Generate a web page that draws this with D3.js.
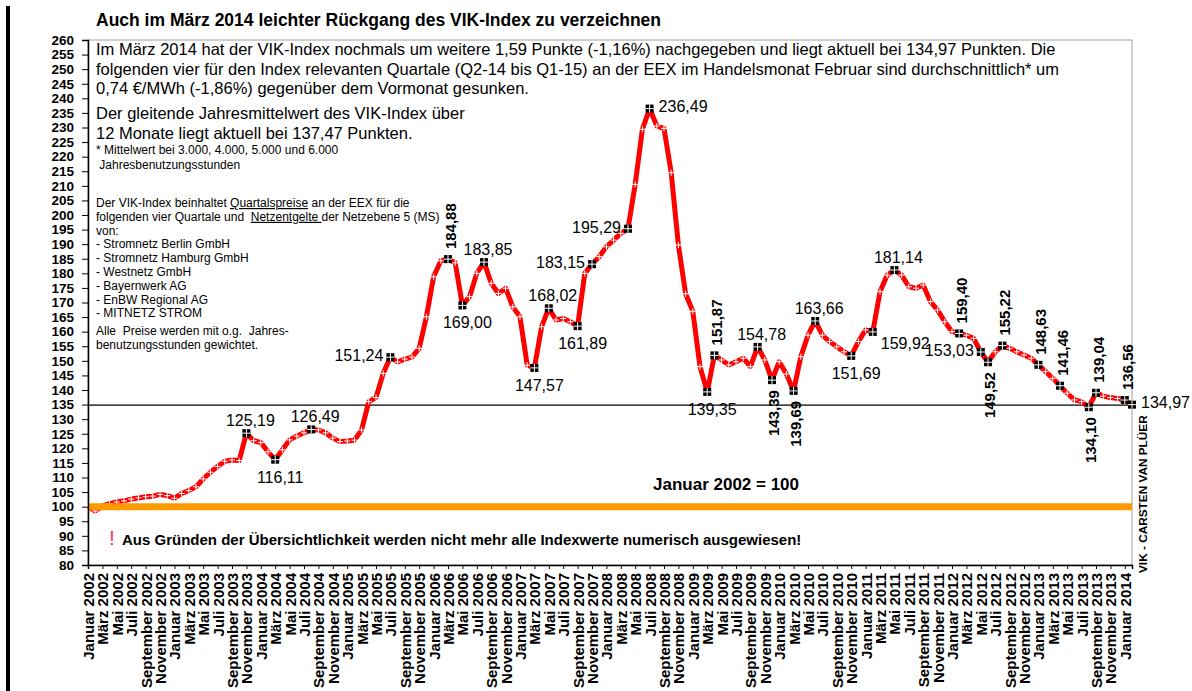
<!DOCTYPE html>
<html>
<head>
<meta charset="utf-8">
<script src="https://cdn.jsdelivr.net/npm/d3@7"></script>
<style>
  body { margin: 0; background: #fff; }
  svg text { font-family: "Liberation Sans", Arial, sans-serif; fill: #000; }
</style>
</head>
<body>
<div id="chart"></div>
<script>
// VIK-Index (Januar 2002 = 100), Monatswerte Januar 2002 bis Februar 2014
const startYear = 2002;
const monthNames = ["Januar", "Februar", "März", "April", "Mai", "Juni",
                    "Juli", "August", "September", "Oktober", "November", "Dezember"];

const indexValues = [
  100.00, 98.5, 100.3, 101.0, 101.6, 102.0, 102.6, 103.0, 103.4, 103.6, 104.2, 103.8,   // 2002
  102.9, 104.5, 105.5, 106.8, 109.5, 111.8, 113.8, 115.6, 116.0, 115.8, 125.19, 122.6,   // 2003
  122.0, 118.8, 116.11, 119.5, 122.9, 124.2, 125.3, 126.49, 126.3, 125.3, 123.5, 122.3,  // 2004
  122.5, 122.8, 126.3, 136.0, 137.4, 145.7, 151.24, 149.6, 150.6, 151.3, 154.3, 165.1,   // 2005
  178.8, 184.3, 184.88, 183.6, 169.00, 172.0, 180.0, 183.85, 176.6, 173.1, 174.9, 168.5, // 2006
  165.1, 148.5, 147.57, 161.7, 168.02, 164.0, 164.5, 163.4, 161.89, 180.0, 183.15, 185.7,// 2007
  189.1, 191.4, 193.7, 195.29, 210.5, 229.4, 236.49, 230.5, 229.7, 214.5, 189.7, 173.0,  // 2008
  167.0, 148.0, 139.35, 151.87, 150.3, 148.6, 149.7, 150.9, 148.0, 154.78, 150.3, 143.39,// 2009
  149.7, 145.5, 139.69, 151.4, 158.8, 163.66, 158.8, 156.6, 154.8, 153.1, 151.69, 156.6, // 2010
  160.6, 159.92, 173.7, 179.4, 181.14, 179.4, 175.4, 174.9, 176.0, 170.3, 167.4, 163.4,  // 2011
  160.0, 159.40, 158.8, 157.7, 153.03, 149.52, 153.1, 155.22, 154.3, 153.1, 152.0, 150.9,// 2012
  148.63, 146.3, 144.0, 141.46, 138.9, 136.6, 136.0, 134.10, 139.04, 137.9, 137.4, 137.1,// 2013
  136.56, 134.97                                                                          // 2014
];

// months whose value is written out, and where the number sits
const labelIdx = [22, 26, 31, 42, 50, 52, 55, 62, 64, 68, 70, 75, 78, 86, 87, 93, 95, 98,
                  101, 106, 109, 112, 121, 124, 125, 127, 132, 135, 139, 140, 144, 145];
const labelPos = ["top", "bottom", "top", "left", "vtop", "bottom", "top", "bottom", "top", "bottom",
                  "left", "left", "right", "bottom", "vtop", "top", "vbottom", "vbottom",
                  "top", "bottom", "rightBelow", "top", "vtop", "left", "vbottom", "vtop",
                  "vtop", "vtop", "vbottom", "vtop", "vtop", "right"];

const yTicks = d3.range(80, 261, 5);
const baseValue = 100;
const currentValue = 134.97;

const titleText = "Auch im März 2014 leichter Rückgang des VIK-Index zu verzeichnen";
const bodyLines = [
  "Im März 2014 hat der VIK-Index nochmals um weitere 1,59 Punkte (-1,16%) nachgegeben und liegt aktuell bei 134,97 Punkten. Die",
  "folgenden vier für den Index relevanten Quartale (Q2-14 bis Q1-15) an der EEX im Handelsmonat Februar sind durchschnittlich* um",
  "0,74 €/MWh (-1,86%) gegenüber dem Vormonat gesunken."
];
const meanLines = ["Der gleitende Jahresmittelwert des VIK-Index über", "12 Monate liegt aktuell bei 137,47 Punkten."];
const footLines = ["* Mittelwert bei 3.000, 4.000, 5.000 und 6.000", " Jahresbenutzungsstunden"];
const infoLines = [
  ["Der VIK-Index beinhaltet ", "Quartalspreise", " an der EEX für die"],
  ["folgenden vier Quartale und  ", "Netzentgelte ", "der Netzebene 5 (MS)"],
  ["von:"],
  ["- Stromnetz Berlin GmbH"],
  ["- Stromnetz Hamburg GmbH"],
  ["- Westnetz GmbH"],
  ["- Bayernwerk AG"],
  ["- EnBW Regional AG"],
  ["- MITNETZ STROM"]
];
const weightLines = ["Alle  Preise werden mit o.g.  Jahres-", "benutzungsstunden gewichtet."];

const W = 1192, H = 691;
const plot = { left: 88, right: 1132, top: 40, bottom: 565 };
const font = '"Liberation Sans", Arial, sans-serif';

const monthLabels = indexValues.map((v, i) =>
  monthNames[i % 12] + " " + (startYear + Math.floor(i / 12)));
const tickIdx = d3.range(0, indexValues.length, 2);
const fmt = v => d3.format(".2f")(v).replace(".", ",");

const svg = d3.select("#chart").append("svg")
  .attr("width", W)
  .attr("height", H);

const x = d3.scaleLinear().domain([0, indexValues.length - 1]).range([plot.left, plot.right]);
const y = d3.scaleLinear().domain([80, 260]).range([plot.bottom, plot.top]);

// black bar at the left page edge
svg.append("rect").attr("x", 6).attr("y", 6).attr("width", 4).attr("height", H).attr("fill", "#000");

// plot frame
svg.append("rect")
  .attr("x", plot.left).attr("y", plot.top)
  .attr("width", plot.right - plot.left).attr("height", plot.bottom - plot.top)
  .attr("fill", "none").attr("stroke", "#a0a0a0").attr("stroke-width", 1);

// title
svg.append("text")
  .attr("x", 96).attr("y", 26)
  .style("font-size", "17.5px").style("font-weight", "bold")
  .text(titleText);

// text block
const txt = svg.append("g");
bodyLines.forEach((l, i) => {
  txt.append("text").attr("x", 96).attr("y", 55 + i * 19.5)
    .style("font-size", "16.5px").text(l);
});
meanLines.forEach((l, i) => {
  txt.append("text").attr("x", 96).attr("y", 119 + i * 20)
    .style("font-size", "16.5px").text(l);
});
footLines.forEach((l, i) => {
  txt.append("text").attr("x", 96).attr("y", 154 + i * 14.5)
    .style("font-size", "12px").attr("xml:space", "preserve").text(l);
});
infoLines.forEach((parts, i) => {
  const t = txt.append("text").attr("x", 96).attr("y", 207 + i * 13.8)
    .style("font-size", "12px").attr("xml:space", "preserve");
  parts.forEach((p, k) => {
    t.append("tspan").text(p).style("text-decoration", k === 1 ? "underline" : "none");
  });
});
weightLines.forEach((l, i) => {
  txt.append("text").attr("x", 96).attr("y", 335 + i * 14.3)
    .style("font-size", "12px").attr("xml:space", "preserve").text(l);
});

// reference line at the current value
svg.append("line")
  .attr("x1", plot.left).attr("x2", plot.right)
  .attr("y1", y(currentValue) + 0.5).attr("y2", y(currentValue) + 0.5)
  .attr("stroke", "#000").attr("stroke-width", 1.3);

// index line
const line = d3.line().x((d, i) => x(i)).y(d => y(d));
svg.append("path")
  .datum(indexValues)
  .attr("d", line)
  .attr("fill", "none")
  .attr("stroke", "#ff0000")
  .attr("stroke-width", 5)
  .attr("stroke-linejoin", "round");

// white plus marks on every month
svg.append("g").selectAll("path")
  .data(indexValues.map((v, i) => i).filter(i => labelIdx.indexOf(i) < 0))
  .enter().append("path")
  .attr("d", i => `M${x(i) - 3},${y(indexValues[i])}h6M${x(i)},${y(indexValues[i]) - 3}v6`)
  .attr("stroke", "#fff").attr("stroke-width", 1);

// base line Januar 2002 = 100
svg.append("line")
  .attr("x1", plot.left).attr("x2", plot.right)
  .attr("y1", y(baseValue)).attr("y2", y(baseValue))
  .attr("stroke", "#ff9900").attr("stroke-width", 7);

// axes
const yAxis = svg.append("g")
  .attr("transform", `translate(${plot.left},0)`)
  .call(d3.axisLeft(y).tickValues(yTicks).tickSize(6).tickPadding(8).tickFormat(d3.format("d")));
yAxis.select(".domain").attr("stroke-width", 1.5);
yAxis.selectAll("text")
  .style("font-family", font).style("font-size", "13.5px").style("font-weight", "bold");

const xAxis = svg.append("g")
  .attr("transform", `translate(0,${plot.bottom})`)
  .call(d3.axisBottom(x).tickValues(tickIdx).tickSize(4).tickFormat(i => monthLabels[i]));
xAxis.select(".domain").attr("stroke-width", 1.5);
xAxis.selectAll("text")
  .attr("transform", "rotate(-90)")
  .attr("text-anchor", "end")
  .attr("x", -8).attr("y", 0).attr("dy", "0.36em")
  .style("font-family", font).style("font-size", "15px").style("font-weight", "bold");

// black markers with the written values
const marks = svg.append("g");
labelIdx.forEach((idx, k) => {
  const mx = x(idx), my = y(indexValues[idx]);
  marks.append("rect")
    .attr("x", mx - 4).attr("y", my - 4).attr("width", 8).attr("height", 8)
    .attr("fill", "#000");
  marks.append("path")
    .attr("d", `M${mx - 4},${my}h8M${mx},${my - 4}v8`)
    .attr("stroke", "#fff").attr("stroke-width", 1);

  const pos = labelPos[k];
  const t = marks.append("text").text(fmt(indexValues[idx])).style("font-size", "16px");
  if (pos === "top") {
    t.attr("x", mx + 4).attr("y", my - 7).attr("text-anchor", "middle");
  } else if (pos === "bottom") {
    t.attr("x", mx + 5).attr("y", my + 23).attr("text-anchor", "middle");
  } else if (pos === "left") {
    t.attr("x", mx - 7).attr("y", my + 4).attr("text-anchor", "end");
  } else if (pos === "right") {
    t.attr("x", mx + 9).attr("y", my + 3);
  } else if (pos === "rightBelow") {
    t.attr("x", mx + 8).attr("y", my + 17);
  } else if (pos === "vtop") {
    t.style("font-size", "15px").style("font-weight", "bold")
      .attr("transform", `translate(${mx + 8},${my - 10}) rotate(-90)`);
  } else if (pos === "vbottom") {
    t.style("font-size", "15px").style("font-weight", "bold")
      .attr("text-anchor", "end")
      .attr("transform", `translate(${mx + 7},${my + 10}) rotate(-90)`);
  }
});

// notes inside the plot
svg.append("text")
  .attr("x", 653).attr("y", 490)
  .style("font-size", "17px").style("font-weight", "bold")
  .text("Januar 2002 = 100");

svg.append("text")
  .attr("x", 109).attr("y", 545)
  .style("font-size", "21px").style("fill", "#ff3366")
  .text("!");
svg.append("text")
  .attr("x", 122).attr("y", 545)
  .style("font-size", "15px").style("font-weight", "bold")
  .text("Aus Gründen der Übersichtlichkeit werden nicht mehr alle Indexwerte numerisch ausgewiesen!");

svg.append("text")
  .attr("transform", `translate(1147,573) rotate(-90)`)
  .style("font-size", "11.8px").style("font-weight", "bold")
  .text("VIK - CARSTEN VAN PLÜER");
</script>
</body>
</html>
